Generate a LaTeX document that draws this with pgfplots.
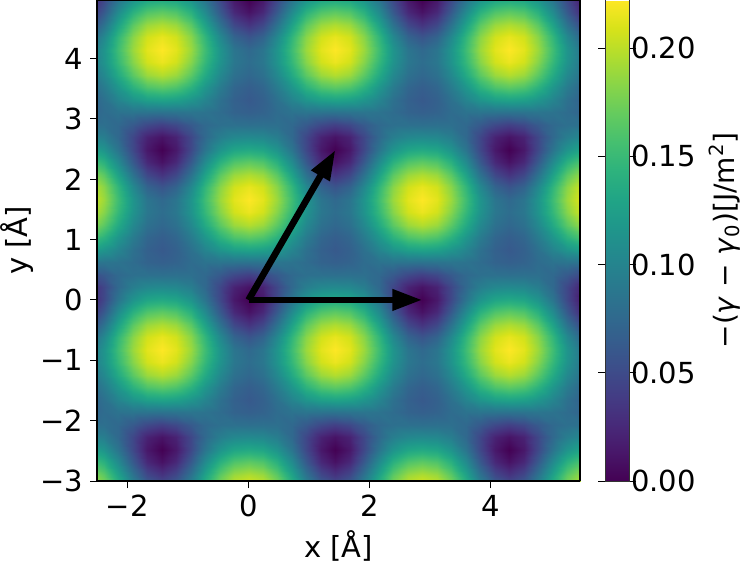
\documentclass[border=0pt]{standalone}
\usepackage{fontspec}
\setmainfont{DejaVu Sans}
\usepackage{pgfplots}
\pgfplotsset{compat=1.18}
\usetikzlibrary{arrows.meta}
\begin{document}
\begin{tikzpicture}[font=\fontsize{14.5}{17}\selectfont]
\path[use as bounding box] (-48.5pt,-40.5pt) rectangle (325pt,240.5pt);
\begin{axis}[
  view={0}{90},
  scale only axis, width=241.5pt, height=240.5pt,
  xmin=-2.5, xmax=5.47, ymin=-3, ymax=4.97, zmin=-1, zmax=1,
  enlargelimits=false, axis on top,
  xtick={-2,0,2,4}, xticklabels={−2,0,2,4},
  ytick={-3,-2,-1,0,1,2,3,4}, yticklabels={−3,−2,−1,0,1,2,3,4},
  xtick pos=left, ytick pos=left, ztick=\empty,
  tick align=outside, major tick length=3.5pt,
  every tick/.style={black, line width=0.5pt},
  axis line style={line width=0.6pt},
  xlabel={x [Å]}, ylabel={y [Å]}, ylabel shift=-3.5pt,
  colormap/viridis,
  point meta min=0, point meta max=222.2,
  colorbar,
  colorbar style={
    at={(parent axis.north east)}, anchor=north west, xshift=4pt,
    width=12pt,
    ytick={0,50,100,150,200}, yticklabels={0.00,0.05,0.10,0.15,0.20},
    yticklabel style={xshift=-6pt},
    tick align=outside, major tick length=3.5pt,
    every tick/.style={black, line width=0.5pt},
    axis line style={draw=black!80, line width=0.5pt},
    ylabel={−(\textit{γ} − \textit{γ}\textsubscript{0})[J/m\textsuperscript{2}]},
    ylabel style={font=\fontsize{14}{16}\selectfont},
  },
]
\addplot3[surf, shader=interp, mesh/cols=35, point meta=explicit]
  table[row sep=\\, header=false,
        x expr={(mod(\coordindex,35)-11)*0.2391667},
        y expr={(floor((\coordindex+0.5)/35)-15)*0.2071244},
        z expr=0, meta index=0] {
207\\183\\146\\104\\71\\58\\71\\104\\146\\183\\207\\215\\207\\183\\146\\104\\71\\58\\71\\104\\146\\183\\207\\215\\207\\183\\146\\104\\71\\58\\71\\104\\146\\183\\207\\
189\\166\\128\\84\\48\\33\\48\\84\\128\\166\\189\\196\\189\\166\\128\\84\\48\\33\\48\\84\\128\\166\\189\\196\\189\\166\\128\\84\\48\\33\\48\\84\\128\\166\\189\\
161\\141\\106\\62\\25\\10\\25\\62\\106\\141\\161\\167\\161\\141\\106\\62\\25\\10\\25\\62\\106\\141\\161\\167\\161\\141\\106\\62\\25\\10\\25\\62\\106\\141\\161\\
131\\115\\86\\48\\14\\0\\14\\48\\86\\115\\131\\135\\131\\115\\86\\48\\14\\0\\14\\48\\86\\115\\131\\135\\131\\115\\86\\48\\14\\0\\14\\48\\86\\115\\131\\
103\\94\\75\\47\\21\\11\\21\\47\\75\\94\\103\\105\\103\\94\\75\\47\\21\\11\\21\\47\\75\\94\\103\\105\\103\\94\\75\\47\\21\\11\\21\\47\\75\\94\\103\\
82\\81\\75\\62\\48\\41\\48\\62\\75\\81\\82\\81\\82\\81\\75\\62\\48\\41\\48\\62\\75\\81\\82\\81\\82\\81\\75\\62\\48\\41\\48\\62\\75\\81\\82\\
70\\78\\84\\86\\85\\84\\85\\86\\84\\78\\70\\67\\70\\78\\84\\86\\85\\84\\85\\86\\84\\78\\70\\67\\70\\78\\84\\86\\85\\84\\85\\86\\84\\78\\70\\
68\\82\\100\\115\\125\\128\\125\\115\\100\\82\\68\\62\\68\\82\\100\\115\\125\\128\\125\\115\\100\\82\\68\\62\\68\\82\\100\\115\\125\\128\\125\\115\\100\\82\\68\\
73\\92\\117\\143\\161\\167\\161\\143\\117\\92\\73\\66\\73\\92\\117\\143\\161\\167\\161\\143\\117\\92\\73\\66\\73\\92\\117\\143\\161\\167\\161\\143\\117\\92\\73\\
82\\104\\135\\166\\189\\197\\189\\166\\135\\104\\82\\74\\82\\104\\135\\166\\189\\197\\189\\166\\135\\104\\82\\74\\82\\104\\135\\166\\189\\197\\189\\166\\135\\104\\82\\
88\\114\\148\\182\\207\\216\\207\\182\\148\\114\\88\\79\\88\\114\\148\\182\\207\\216\\207\\182\\148\\114\\88\\79\\88\\114\\148\\182\\207\\216\\207\\182\\148\\114\\88\\
86\\115\\153\\189\\213\\222\\213\\189\\153\\115\\86\\75\\86\\115\\153\\189\\213\\222\\213\\189\\153\\115\\86\\75\\86\\115\\153\\189\\213\\222\\213\\189\\153\\115\\86\\
71\\104\\146\\183\\207\\215\\207\\183\\146\\104\\71\\58\\71\\104\\146\\183\\207\\215\\207\\183\\146\\104\\71\\58\\71\\104\\146\\183\\207\\215\\207\\183\\146\\104\\71\\
48\\84\\128\\166\\189\\196\\189\\166\\128\\84\\48\\33\\48\\84\\128\\166\\189\\196\\189\\166\\128\\84\\48\\33\\48\\84\\128\\166\\189\\196\\189\\166\\128\\84\\48\\
25\\62\\106\\141\\161\\167\\161\\141\\106\\62\\25\\10\\25\\62\\106\\141\\161\\167\\161\\141\\106\\62\\25\\10\\25\\62\\106\\141\\161\\167\\161\\141\\106\\62\\25\\
14\\48\\86\\115\\131\\135\\131\\115\\86\\48\\14\\0\\14\\48\\86\\115\\131\\135\\131\\115\\86\\48\\14\\0\\14\\48\\86\\115\\131\\135\\131\\115\\86\\48\\14\\
21\\47\\75\\94\\103\\105\\103\\94\\75\\47\\21\\11\\21\\47\\75\\94\\103\\105\\103\\94\\75\\47\\21\\11\\21\\47\\75\\94\\103\\105\\103\\94\\75\\47\\21\\
48\\62\\75\\81\\82\\81\\82\\81\\75\\62\\48\\41\\48\\62\\75\\81\\82\\81\\82\\81\\75\\62\\48\\41\\48\\62\\75\\81\\82\\81\\82\\81\\75\\62\\48\\
85\\86\\84\\78\\70\\67\\70\\78\\84\\86\\85\\84\\85\\86\\84\\78\\70\\67\\70\\78\\84\\86\\85\\84\\85\\86\\84\\78\\70\\67\\70\\78\\84\\86\\85\\
125\\115\\100\\82\\68\\62\\68\\82\\100\\115\\125\\128\\125\\115\\100\\82\\68\\62\\68\\82\\100\\115\\125\\128\\125\\115\\100\\82\\68\\62\\68\\82\\100\\115\\125\\
161\\143\\117\\92\\73\\66\\73\\92\\117\\143\\161\\167\\161\\143\\117\\92\\73\\66\\73\\92\\117\\143\\161\\167\\161\\143\\117\\92\\73\\66\\73\\92\\117\\143\\161\\
189\\166\\135\\104\\82\\74\\82\\104\\135\\166\\189\\197\\189\\166\\135\\104\\82\\74\\82\\104\\135\\166\\189\\197\\189\\166\\135\\104\\82\\74\\82\\104\\135\\166\\189\\
207\\182\\148\\114\\88\\79\\88\\114\\148\\182\\207\\216\\207\\182\\148\\114\\88\\79\\88\\114\\148\\182\\207\\216\\207\\182\\148\\114\\88\\79\\88\\114\\148\\182\\207\\
213\\189\\153\\115\\86\\75\\86\\115\\153\\189\\213\\222\\213\\189\\153\\115\\86\\75\\86\\115\\153\\189\\213\\222\\213\\189\\153\\115\\86\\75\\86\\115\\153\\189\\213\\
207\\183\\146\\104\\71\\58\\71\\104\\146\\183\\207\\215\\207\\183\\146\\104\\71\\58\\71\\104\\146\\183\\207\\215\\207\\183\\146\\104\\71\\58\\71\\104\\146\\183\\207\\
189\\166\\128\\84\\48\\33\\48\\84\\128\\166\\189\\196\\189\\166\\128\\84\\48\\33\\48\\84\\128\\166\\189\\196\\189\\166\\128\\84\\48\\33\\48\\84\\128\\166\\189\\
161\\141\\106\\62\\25\\10\\25\\62\\106\\141\\161\\167\\161\\141\\106\\62\\25\\10\\25\\62\\106\\141\\161\\167\\161\\141\\106\\62\\25\\10\\25\\62\\106\\141\\161\\
131\\115\\86\\48\\14\\0\\14\\48\\86\\115\\131\\135\\131\\115\\86\\48\\14\\0\\14\\48\\86\\115\\131\\135\\131\\115\\86\\48\\14\\0\\14\\48\\86\\115\\131\\
103\\94\\75\\47\\21\\11\\21\\47\\75\\94\\103\\105\\103\\94\\75\\47\\21\\11\\21\\47\\75\\94\\103\\105\\103\\94\\75\\47\\21\\11\\21\\47\\75\\94\\103\\
82\\81\\75\\62\\48\\41\\48\\62\\75\\81\\82\\81\\82\\81\\75\\62\\48\\41\\48\\62\\75\\81\\82\\81\\82\\81\\75\\62\\48\\41\\48\\62\\75\\81\\82\\
70\\78\\84\\86\\85\\84\\85\\86\\84\\78\\70\\67\\70\\78\\84\\86\\85\\84\\85\\86\\84\\78\\70\\67\\70\\78\\84\\86\\85\\84\\85\\86\\84\\78\\70\\
68\\82\\100\\115\\125\\128\\125\\115\\100\\82\\68\\62\\68\\82\\100\\115\\125\\128\\125\\115\\100\\82\\68\\62\\68\\82\\100\\115\\125\\128\\125\\115\\100\\82\\68\\
73\\92\\117\\143\\161\\167\\161\\143\\117\\92\\73\\66\\73\\92\\117\\143\\161\\167\\161\\143\\117\\92\\73\\66\\73\\92\\117\\143\\161\\167\\161\\143\\117\\92\\73\\
82\\104\\135\\166\\189\\197\\189\\166\\135\\104\\82\\74\\82\\104\\135\\166\\189\\197\\189\\166\\135\\104\\82\\74\\82\\104\\135\\166\\189\\197\\189\\166\\135\\104\\82\\
88\\114\\148\\182\\207\\216\\207\\182\\148\\114\\88\\79\\88\\114\\148\\182\\207\\216\\207\\182\\148\\114\\88\\79\\88\\114\\148\\182\\207\\216\\207\\182\\148\\114\\88\\
86\\115\\153\\189\\213\\222\\213\\189\\153\\115\\86\\75\\86\\115\\153\\189\\213\\222\\213\\189\\153\\115\\86\\75\\86\\115\\153\\189\\213\\222\\213\\189\\153\\115\\86\\
71\\104\\146\\183\\207\\215\\207\\183\\146\\104\\71\\58\\71\\104\\146\\183\\207\\215\\207\\183\\146\\104\\71\\58\\71\\104\\146\\183\\207\\215\\207\\183\\146\\104\\71\\
48\\84\\128\\166\\189\\196\\189\\166\\128\\84\\48\\33\\48\\84\\128\\166\\189\\196\\189\\166\\128\\84\\48\\33\\48\\84\\128\\166\\189\\196\\189\\166\\128\\84\\48\\
25\\62\\106\\141\\161\\167\\161\\141\\106\\62\\25\\10\\25\\62\\106\\141\\161\\167\\161\\141\\106\\62\\25\\10\\25\\62\\106\\141\\161\\167\\161\\141\\106\\62\\25\\
14\\48\\86\\115\\131\\135\\131\\115\\86\\48\\14\\0\\14\\48\\86\\115\\131\\135\\131\\115\\86\\48\\14\\0\\14\\48\\86\\115\\131\\135\\131\\115\\86\\48\\14\\
};
\addplot3[black, line width=3.3pt, -{Triangle[length=15pt,width=10pt]}]
  coordinates {(0,0,0) (2.87,0,0)};
\addplot3[black, line width=3.3pt, -{Triangle[length=15pt,width=10pt]}]
  coordinates {(0,0,0) (1.435,2.485,0)};
\end{axis}
\end{tikzpicture}
\end{document}
